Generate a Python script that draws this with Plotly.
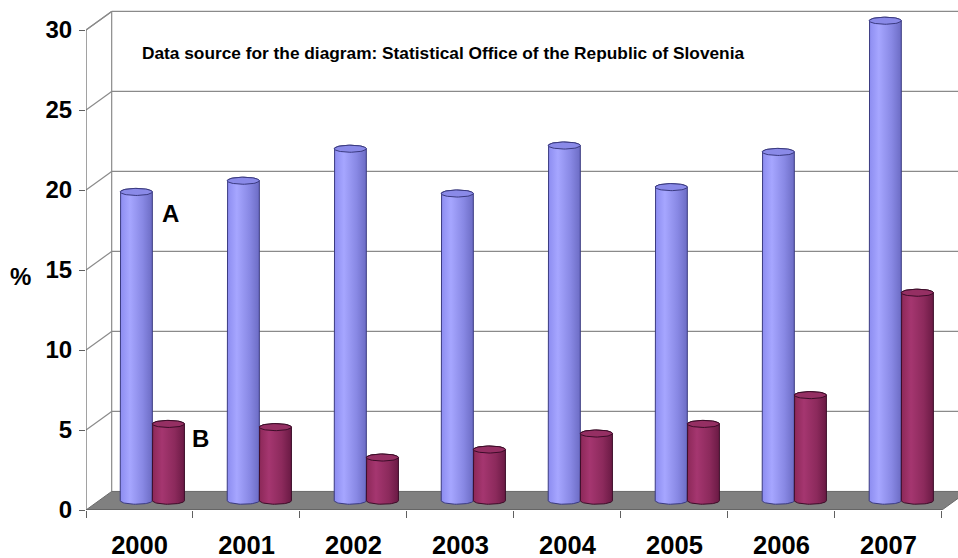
import numpy as np
import plotly.graph_objects as go

years = ["2000", "2001", "2002", "2003", "2004", "2005", "2006", "2007"]
series_a = [19.3, 20.0, 22.0, 19.2, 22.2, 19.6, 21.8, 30.0]
series_b = [4.8, 4.6, 2.7, 3.2, 4.2, 4.8, 6.6, 13.0]
y_ticks = [0, 5, 10, 15, 20, 25, 30]

FONT = "Liberation Sans, Arial, sans-serif"
DX, DY = 0.24, 1.16          # depth offset of back wall (x units, y units)
XMAX, YMAX = 8.15, 31.5
BW = 0.30                    # cylinder width
EB = 0.22                    # ellipse half-height (y units)

fig = go.Figure()

shapes = []
grid_col = "#8a8a8a"
# back wall outline
shapes.append(dict(type="line", xref="x", yref="y", x0=DX, y0=DY, x1=DX, y1=30 + DY,
                   line=dict(color=grid_col, width=1.2), layer="below"))
shapes.append(dict(type="line", xref="x", yref="y", x0=0, y0=30, x1=DX, y1=30 + DY,
                   line=dict(color=grid_col, width=1.2), layer="below"))
for v in y_ticks[1:]:
    shapes.append(dict(type="line", xref="x", yref="y", x0=0, y0=v, x1=DX, y1=v + DY,
                       line=dict(color=grid_col, width=1.2), layer="below"))
    shapes.append(dict(type="line", xref="x", yref="y", x0=DX, y0=v + DY, x1=XMAX, y1=v + DY,
                       line=dict(color=grid_col, width=1.2), layer="below"))
# floor
n = len(years)
shapes.append(dict(type="path", xref="x", yref="y",
                   path=f"M 0,0 L {n},0 L {n + DX},{DY} L {DX},{DY} Z",
                   fillcolor="#808080", line=dict(color="#6a6a6a", width=1), layer="below"))
# front axes
shapes.append(dict(type="line", xref="x", yref="y", x0=0, y0=0, x1=0, y1=30,
                   line=dict(color="#707070", width=1.3), layer="below"))
shapes.append(dict(type="line", xref="x", yref="y", x0=0, y0=0, x1=n, y1=0,
                   line=dict(color="#606060", width=1.3), layer="below"))

t_up = np.linspace(np.pi, 0, 30)
t_dn = np.linspace(0, np.pi, 30)


def cylinder(xc, val, scale, edge, top_col, name):
    base = DY / 2
    top = val + DY / 2
    xl, xr = xc - BW / 2, xc + BW / 2
    a = BW / 2
    xs = [xl, xl] + list(xc + a * np.cos(t_up)) + [xr, xr] + list(xc + a * np.cos(t_dn))
    ys = [base, top] + list(top + EB * np.sin(t_up)) + [top, base] + list(base - EB * np.sin(t_dn))
    fig.add_trace(go.Scatter(x=xs, y=ys, mode="lines", fill="toself",
                             fillgradient=dict(type="horizontal", colorscale=scale),
                             line=dict(color=edge, width=1), hoverinfo="skip",
                             showlegend=False, name=name))
    tt = np.linspace(0, 2 * np.pi, 60)
    fig.add_trace(go.Scatter(x=list(xc + a * np.cos(tt)), y=list(top + EB * np.sin(tt)),
                             mode="lines", fill="toself", fillcolor=top_col,
                             line=dict(color=edge, width=1), hoverinfo="skip",
                             showlegend=False, name=name))


scale_a = [[0, "#8c8cf0"], [0.3, "#a6a6ff"], [0.7, "#8888e4"], [1, "#6c6cc4"]]
scale_b = [[0, "#8c2858"], [0.3, "#a53670"], [0.7, "#8c2a5c"], [1, "#6a1a44"]]
for i in range(n):
    cx = i + 0.5 + DX / 2
    cylinder(cx - BW / 2, series_a[i], scale_a, "#3a3a80", "#8a8ae8", "A")
    cylinder(cx + BW / 2, series_b[i], scale_b, "#3c0c28", "#952f63", "B")

annotations = [
    dict(text="Data source for the diagram: Statistical Office of the Republic of Slovenia",
         xref="x", yref="y", x=0.50, y=28.55, xanchor="left", yanchor="middle",
         showarrow=False, font=dict(family=FONT, size=17.3, color="#000000", weight="bold")),
    dict(text="A", xref="x", yref="y", x=0.79, y=18.55, xanchor="center", yanchor="middle",
         showarrow=False, font=dict(family=FONT, size=24, color="#000000", weight="bold")),
    dict(text="B", xref="x", yref="y", x=1.07, y=4.45, xanchor="center", yanchor="middle",
         showarrow=False, font=dict(family=FONT, size=24, color="#000000", weight="bold")),
    dict(text="%", xref="paper", yref="y", x=-0.061, y=14.6, xanchor="right", yanchor="middle",
         showarrow=False, font=dict(family=FONT, size=24, color="#000000", weight="bold")),
]

fig.update_layout(
    width=958, height=558,
    margin=dict(l=86, r=0, t=6, b=48),
    paper_bgcolor="white", plot_bgcolor="white",
    shapes=shapes, annotations=annotations, showlegend=False,
    xaxis=dict(range=[0, XMAX], tickmode="array",
               tickvals=[i + 0.5 for i in range(n)], ticktext=years,
               ticks="", showgrid=False, zeroline=False, showline=False,
               tickfont=dict(family=FONT, size=25.5, color="#000000", weight="bold"),
               ticklabelstandoff=17,
               minor=dict(tickmode="array", tickvals=list(range(n + 1)), ticks="outside",
                          ticklen=7, tickcolor="#606060", tickwidth=1.3, showgrid=False),
               fixedrange=True),
    yaxis=dict(range=[0, YMAX], tickmode="array", tickvals=y_ticks,
               ticks="outside", ticklen=6, tickcolor="#606060", tickwidth=1.3,
               showgrid=False, zeroline=False, showline=False,
               tickfont=dict(family=FONT, size=24, color="#000000", weight="bold"),
               ticklabelstandoff=2, fixedrange=True),
)

fig.write_html("out.html")
